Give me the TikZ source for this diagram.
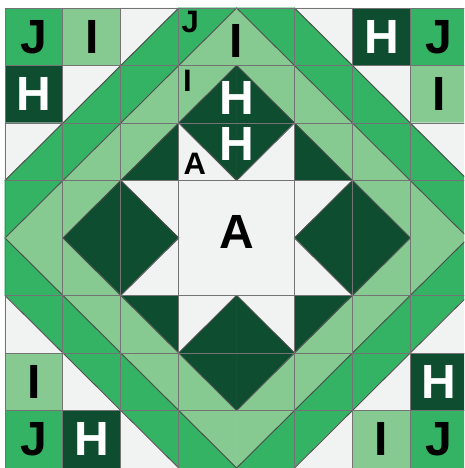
\documentclass[tikz,border=0pt]{standalone}
\usepackage{fontspec}
\setmainfont{Liberation Sans}
\usetikzlibrary{positioning}

\definecolor{qdark}{HTML}{0E4D2F}
\definecolor{qmid}{HTML}{35B364}
\definecolor{qlight}{HTML}{86CA92}
\definecolor{qwhite}{HTML}{F1F3F2}

\begin{document}
\begin{tikzpicture}[
  x=57.9pt,
  y=57.5pt,
  patch/.style={
    line width=0.5pt,
    fill=#1,
    draw=#1
  },
  seam/.style={
    line width=0.9pt,
    draw=black!55
  },
  cut/.style={
    line width=0.9pt,
    draw=black!70
  },
  big letter/.style={
    inner sep=0pt,
    font=\fontsize{48}{48}\selectfont\bfseries
  },
  small letter/.style={
    inner sep=0pt,
    font=\fontsize{31}{31}\selectfont\bfseries
  }
]

\useasboundingbox (-5pt,0pt) rectangle (459pt,468pt);
\clip (-5pt,0pt) rectangle (459pt,468pt);
\fill[white] (-5pt,0pt) rectangle (459pt,468pt);

% plain squares
\foreach \c/\r/\col in {0/7/qmid, 1/7/qlight, 6/7/qdark, 7/7/qmid,
                        0/6/qdark, 7/6/qlight, 0/1/qlight, 7/1/qdark,
                        0/0/qmid, 1/0/qdark, 6/0/qlight, 7/0/qmid}
  \path[patch=\col] (\c,\r) rectangle ++(1,1);
\path[patch=qwhite] (3,3) rectangle (5,5);

% half squares cut from bottom left to top right
\foreach \c/\r/\ul/\lr in {
    2/7/qwhite/qmid, 3/7/qmid/qlight,
    1/6/qwhite/qmid, 2/6/qmid/qlight, 3/6/qlight/qdark,
    0/5/qwhite/qmid, 1/5/qmid/qlight, 2/5/qlight/qdark, 4/5/qdark/qwhite,
    0/4/qmid/qlight, 1/4/qlight/qdark, 5/4/qwhite/qdark,
    2/3/qdark/qwhite, 6/3/qdark/qlight, 7/3/qlight/qmid,
    3/2/qwhite/qdark, 5/2/qdark/qlight, 6/2/qlight/qmid, 7/2/qmid/qwhite,
    4/1/qdark/qlight, 5/1/qlight/qmid, 6/1/qmid/qwhite,
    4/0/qlight/qmid, 5/0/qmid/qwhite} {
  \path[patch=\ul] (\c,\r) -- (\c,\r+1) -- (\c+1,\r+1) -- cycle;
  \path[patch=\lr] (\c,\r) -- (\c+1,\r) -- (\c+1,\r+1) -- cycle;
}

% half squares cut from top left to bottom right
\foreach \c/\r/\ur/\ll in {
    4/7/qmid/qlight, 5/7/qwhite/qmid,
    4/6/qlight/qdark, 5/6/qmid/qlight, 6/6/qwhite/qmid,
    3/5/qdark/qwhite, 5/5/qlight/qdark, 6/5/qmid/qlight, 7/5/qwhite/qmid,
    2/4/qwhite/qdark, 6/4/qlight/qdark, 7/4/qmid/qlight,
    0/3/qlight/qmid, 1/3/qdark/qlight, 5/3/qdark/qwhite,
    0/2/qmid/qwhite, 1/2/qlight/qmid, 2/2/qdark/qlight, 4/2/qwhite/qdark,
    1/1/qmid/qwhite, 2/1/qlight/qmid, 3/1/qdark/qlight,
    2/0/qmid/qwhite, 3/0/qlight/qmid} {
  \path[patch=\ur] (\c,\r+1) -- (\c+1,\r+1) -- (\c+1,\r) -- cycle;
  \path[patch=\ll] (\c,\r+1) -- (\c,\r) -- (\c+1,\r) -- cycle;
}

% diagonal cuts
\foreach \c/\r in {2/7, 3/7, 1/6, 2/6, 3/6, 0/5, 1/5, 2/5, 4/5, 0/4, 1/4, 5/4,
                   2/3, 6/3, 7/3, 3/2, 5/2, 6/2, 7/2, 4/1, 5/1, 6/1, 4/0, 5/0}
  \draw[cut] (\c,\r) -- (\c+1,\r+1);
\foreach \c/\r in {4/7, 5/7, 4/6, 5/6, 6/6, 3/5, 5/5, 6/5, 7/5, 2/4, 6/4, 7/4,
                   0/3, 1/3, 5/3, 0/2, 1/2, 2/2, 4/2, 1/1, 2/1, 3/1, 2/0, 3/0}
  \draw[cut] (\c,\r+1) -- (\c+1,\r);

% seams
\foreach \i in {0,1,2,3,5,6,7,8} {
  \draw[seam] (\i,0) -- (\i,8);
  \draw[seam] (0,\i) -- (8,\i);
}

% corner letters
\node[big letter] (j nw) at (0.5,7.5) {J};
\node[big letter] (i nw) at (1.5,7.5) {I};
\node[big letter, text=white] (h nw) at (0.5,6.5) {H};
\node[big letter, text=white] (h ne) at (6.5,7.5) {H};
\node[big letter] (j ne) at (7.5,7.5) {J};
\node[big letter] (i ne) at (7.5,6.5) {I};
\node[big letter] (i sw) at (0.5,1.5) {I};
\node[big letter] (j sw) at (0.5,0.5) {J};
\node[big letter, text=white] (h sw) at (1.5,0.5) {H};
\node[big letter, text=white] (h se) at (7.5,1.5) {H};
\node[big letter] (i se) at (6.5,0.5) {I};
\node[big letter] (j se) at (7.5,0.5) {J};

% middle letters
\node[big letter] (i top) at (4,7.42) {I};
\node[small letter] (j small) at (3.2,7.75) {J};
\node[small letter] (i small) at (3.15,6.73) {I};
\node[big letter, text=white] (h upper) at (4,6.43) {H};
\node[big letter, text=white] (h lower) at (4,5.64) {H};
\node[small letter] (a small) at (3.28,5.29) {A};
\node[big letter] (a centre) at (4,4.1) {A};

\end{tikzpicture}
\end{document}
